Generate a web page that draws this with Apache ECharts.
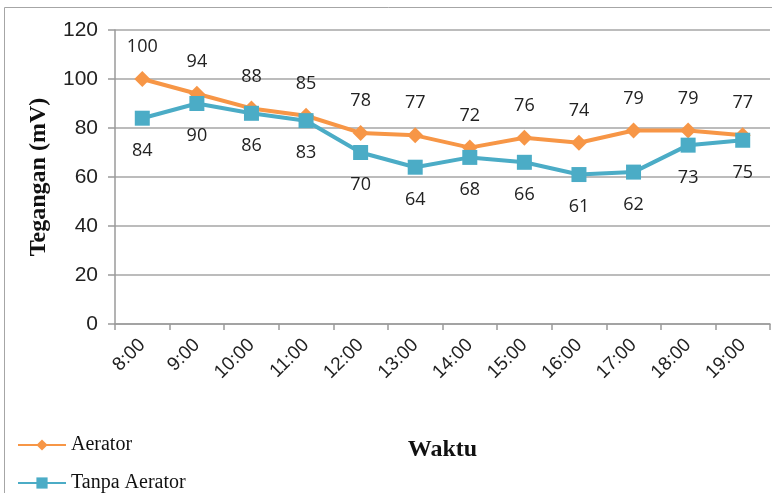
<!DOCTYPE html>
<html>
<head>
<meta charset="utf-8">
<script src="https://cdn.jsdelivr.net/npm/echarts@6/dist/echarts.min.js"></script>
<style>
  html, body { margin: 0; padding: 0; background: #fff; }
  #chart { width: 772px; height: 493px; }
</style>
</head>
<body>
<div id="chart"></div>
<script>
// data
var hours = ['8:00', '9:00', '10:00', '11:00', '12:00', '13:00', '14:00', '15:00', '16:00', '17:00', '18:00', '19:00']
var aerator = [100, 94, 88, 85, 78, 77, 72, 76, 74, 79, 79, 77]
var tanpaAerator = [84, 90, 86, 83, 70, 64, 68, 66, 61, 62, 73, 75]
var yTicks = [0, 20, 40, 60, 80, 100, 120]

var chart = echarts.init(document.getElementById('chart'))

var legendText = {
  fontFamily: 'Liberation Serif',
  fontSize: 20,
  color: '#111'
}

var opt = {
  animation: false,
  // frame round the chart
  graphic: [
    {
      type: 'rect',
      shape: { x: 4.5, y: 7.5, width: 780, height: 500 },
      style: { fill: 'none', stroke: '#a6a6a6', lineWidth: 1 },
      silent: true
    }
  ],
  grid: {
    left: 115,
    right: 2,
    top: 30,
    bottom: 169
  },
  // one legend per entry, stacked like the original
  legend: [
    {
      left: 12,
      top: 430,
      itemWidth: 48,
      itemHeight: 14,
      itemGap: 4,
      textStyle: legendText,
      data: ['Aerator']
    },
    {
      left: 12,
      top: 468,
      itemWidth: 48,
      itemHeight: 14,
      itemGap: 4,
      textStyle: legendText,
      data: ['Tanpa Aerator']
    }
  ],
  xAxis: {
    type: 'category',
    data: hours,
    boundaryGap: true,
    name: 'Waktu',
    nameLocation: 'middle',
    nameGap: 114,
    nameTextStyle: {
      fontFamily: 'Liberation Serif',
      fontWeight: 'bold',
      fontSize: 24,
      color: '#111'
    },
    axisLine: { lineStyle: { color: '#9a9a9a', width: 1.5 } },
    axisTick: { show: true, length: 6, lineStyle: { color: '#9a9a9a', width: 1.5 } },
    axisLabel: {
      interval: 0,
      rotate: 45,
      margin: 18,
      fontFamily: 'Liberation Sans',
      fontSize: 19,
      color: '#222'
    },
    splitLine: { show: false }
  },
  yAxis: {
    type: 'value',
    min: yTicks[0],
    max: yTicks[yTicks.length - 1],
    interval: 20,
    name: 'Tegangan (mV)',
    nameLocation: 'middle',
    nameRotate: 90,
    nameGap: 64,
    nameTextStyle: {
      fontFamily: 'Liberation Serif',
      fontWeight: 'bold',
      fontSize: 24,
      color: '#111'
    },
    axisLine: { show: true, lineStyle: { color: '#9a9a9a', width: 1.5 } },
    axisTick: { show: true, length: 7, lineStyle: { color: '#9a9a9a', width: 1.5 } },
    axisLabel: {
      margin: 17,
      fontFamily: 'Liberation Sans',
      fontSize: 21,
      color: '#222'
    },
    splitLine: { lineStyle: { color: '#a6a6a6', width: 1.5 } }
  },
  series: [
    {
      name: 'Aerator',
      type: 'line',
      data: aerator,
      symbol: 'diamond',
      symbolSize: 16,
      z: 2,
      lineStyle: { color: '#f79646', width: 4 },
      itemStyle: { color: '#f79646' },
      label: {
        show: true,
        position: 'top',
        distance: 15,
        fontFamily: 'Open Sans',
        fontSize: 18,
        color: '#222'
      }
    },
    {
      name: 'Tanpa Aerator',
      type: 'line',
      data: tanpaAerator,
      symbol: 'rect',
      symbolSize: 15,
      z: 3,
      lineStyle: { color: '#4bacc6', width: 4 },
      itemStyle: { color: '#4bacc6' },
      label: {
        show: true,
        position: 'bottom',
        distance: 16,
        fontFamily: 'Open Sans',
        fontSize: 18,
        color: '#222'
      }
    }
  ]
}

chart.setOption(opt)
</script>
</body>
</html>
